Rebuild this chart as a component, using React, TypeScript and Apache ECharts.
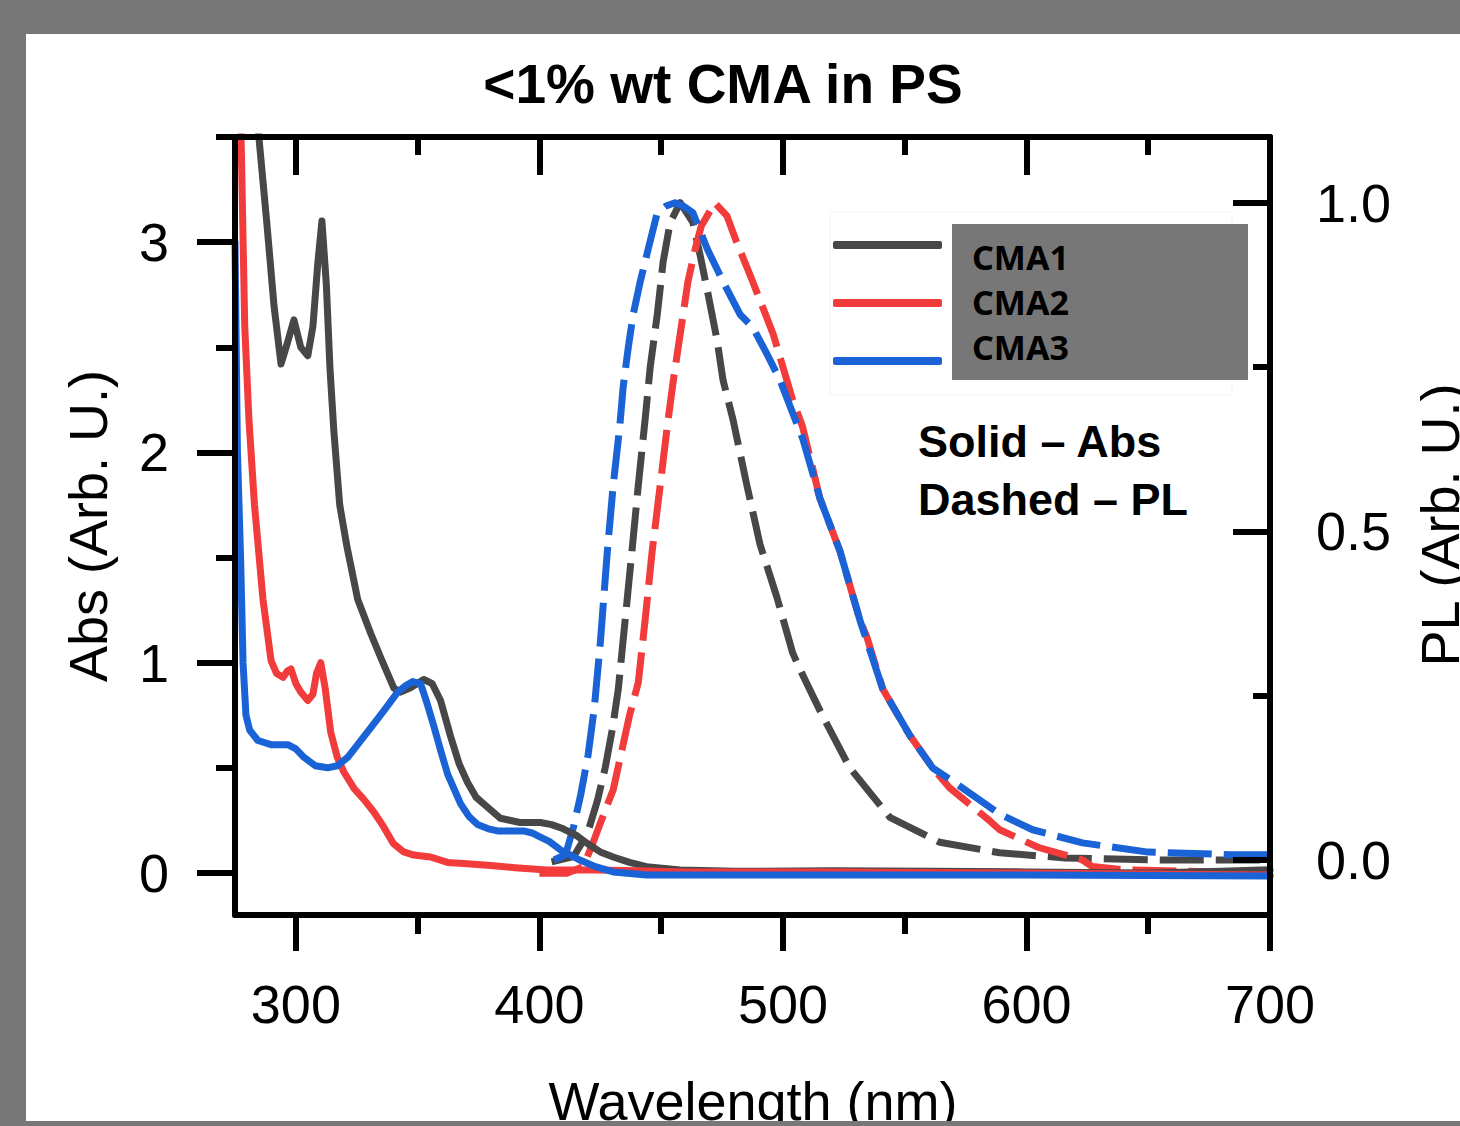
import React, { useEffect, useRef } from "react";
import * as echarts from "echarts";

// [wavelength (nm), absorbance]
const absCMA1: [number, number][] = [
  [283, 3.75], [284.8, 3.5], [288, 3.1], [291, 2.7], [293.9, 2.42], [296, 2.5], [299.2, 2.63],
  [302, 2.5], [304.9, 2.46], [307, 2.6], [309, 2.9], [310.7, 3.1], [312.5, 2.8], [314, 2.4],
  [315.6, 2.1], [318, 1.75], [321, 1.55], [325.4, 1.3], [330.7, 1.14], [335, 1.02], [340.2, 0.88],
  [343, 0.86], [347, 0.88], [352.5, 0.92], [356, 0.9], [359.4, 0.82], [363.5, 0.65], [367, 0.52],
  [370.5, 0.43], [374, 0.36], [377, 0.33], [384, 0.26], [392, 0.24], [400.4, 0.24], [405, 0.23],
  [409.8, 0.21], [415, 0.18], [419.7, 0.14], [425, 0.1], [430.3, 0.076], [437, 0.05], [444, 0.03],
  [457.8, 0.014], [480, 0.008], [520, 0.01], [560, 0.008], [600, 0.005], [650, 0.0], [680, 0.008],
  [700, 0.015],
];
const absCMA2: [number, number][] = [
  [277, 3.8], [277.5, 3.5], [279, 2.6], [280.7, 2.16], [283, 1.75], [286.5, 1.3], [289.8, 1.01],
  [292, 0.95], [294.7, 0.93], [296.5, 0.96], [298, 0.97], [300, 0.9], [302, 0.86], [304.9, 0.82],
  [307, 0.85], [308.5, 0.95], [310.2, 1.0], [312, 0.88], [314.3, 0.67], [317, 0.55], [319.7, 0.48],
  [324, 0.4], [327.9, 0.35], [332, 0.29], [336, 0.22], [340, 0.14], [344.3, 0.1], [348.4, 0.085],
  [355.3, 0.076], [362.3, 0.05], [368.9, 0.045], [380, 0.035], [390, 0.025], [403, 0.014],
  [423.8, 0.014], [440, 0.01], [460, 0.005], [520, 0.005], [600, 0.0], [650, -0.005], [700, -0.01],
];
const absCMA3: [number, number][] = [
  [275, 3.0], [276, 2.0], [277.3, 1.5], [278.3, 1.0], [279.5, 0.75], [281, 0.68], [284.4, 0.63],
  [289.8, 0.61], [296.7, 0.61], [300, 0.59], [303.3, 0.55], [308, 0.51], [313, 0.5], [317, 0.51],
  [321.3, 0.55], [326, 0.62], [330.7, 0.69], [336, 0.77], [341.8, 0.86], [345, 0.89], [348, 0.91],
  [351.2, 0.9], [353.5, 0.82], [356.6, 0.7], [359.5, 0.58], [362.3, 0.47], [367.6, 0.33], [371, 0.27],
  [374.6, 0.23], [379, 0.21], [382.8, 0.2], [393.4, 0.2], [397, 0.19], [400.4, 0.17], [404, 0.15],
  [408.6, 0.11], [412, 0.09], [416.8, 0.06], [423, 0.03], [430.3, 0.005], [444, -0.01], [500, -0.01],
  [600, -0.01], [700, -0.015],
];

// [wavelength (nm), PL]
const plCMA1: [number, number][] = [
  [405, -0.003], [414, 0.005], [419.7, 0.04], [423.8, 0.09], [427, 0.14], [430, 0.2], [432.4, 0.26],
  [435.2, 0.365], [438, 0.47], [440.6, 0.57], [443.4, 0.67], [445.5, 0.75], [448.4, 0.83],
  [450.8, 0.91], [453.7, 0.97], [457.8, 1.0], [463, 0.97], [466, 0.92], [469.3, 0.86], [473, 0.79],
  [475.4, 0.73], [479.5, 0.67], [485.2, 0.57], [490.6, 0.48], [497.5, 0.4], [504, 0.315],
  [507, 0.29], [515.5, 0.225], [527.5, 0.14], [543.9, 0.065], [564.3, 0.027], [589, 0.011],
  [616, 0.003], [657, 0.0], [700, 0.0],
];
const plCMA2: [number, number][] = [
  [400, -0.02], [411.5, -0.02], [418, -0.01], [422, 0.026], [425, 0.056], [430.3, 0.107], [437, 0.22],
  [440.6, 0.27], [443.4, 0.365], [446.3, 0.47], [449.6, 0.57], [452.5, 0.66], [455, 0.73], [457, 0.78],
  [459, 0.83], [461, 0.88], [464, 0.93], [466.5, 0.965], [468.9, 0.98], [472, 1.0], [477, 0.98],
  [481, 0.94], [486.5, 0.89], [491.8, 0.84], [496, 0.8], [500, 0.75], [504, 0.7], [508, 0.66],
  [515.2, 0.55], [523.4, 0.47], [531.6, 0.365], [534.4, 0.34], [541, 0.26], [552, 0.19],
  [561.5, 0.14], [568.4, 0.11], [584.8, 0.06], [589, 0.046], [605, 0.019], [623, 0.0], [627, -0.01],
  [640, -0.015], [700, -0.02],
];
const plCMA3: [number, number][] = [
  [406, 0.0], [410.7, 0.008], [414, 0.05], [417, 0.1], [420, 0.16], [422.5, 0.23], [425, 0.33],
  [427.9, 0.47], [430.3, 0.57], [433, 0.66], [434.4, 0.72], [436.5, 0.78], [438.5, 0.83],
  [441.4, 0.88], [444.7, 0.93], [448.4, 0.985], [452, 0.995], [455.7, 1.0], [459, 0.995],
  [463, 0.985], [468.9, 0.93], [475.4, 0.88], [482.4, 0.83], [487.7, 0.81], [493.4, 0.77],
  [498.8, 0.73], [504, 0.68], [508.2, 0.64], [515.2, 0.55], [523.4, 0.47], [531.6, 0.365],
  [541, 0.26], [552, 0.19], [561.5, 0.14], [569.7, 0.12], [589, 0.07], [602.5, 0.046], [623, 0.026],
  [650, 0.012], [684, 0.008], [700, 0.008],
];

const seriesNames = ["CMA1", "CMA2", "CMA3"];
const colors = ["#474747", "#f23b3b", "#1a63d6"];

const xMajorTicks = [300, 400, 500, 600, 700];
const xMinorTicks = [350, 450, 550, 650];
const absMajorTicks = [0, 1, 2, 3];
const absMinorTicks = [0.5, 1.5, 2.5, 3.5];
const plMajorTicks = [0, 0.5, 1.0];
const plMinorTicks = [0.25, 0.75];

const FONT = "Liberation Sans, Arial, sans-serif";

export default function App() {
  const ref = useRef<HTMLDivElement>(null);
  useEffect(() => {
    document.body.style.margin = "0";
    const chart = echarts.init(ref.current!, null, { renderer: "svg" });
    const line = { color: "#000", width: 6 };
    const xBase: any = { type: "value", min: 275, max: 700, splitLine: { show: false }, z: 4 };
    const absBase: any = { type: "value", min: -0.2, max: 3.5, splitLine: { show: false }, z: 4 };
    const plBase: any = { type: "value", min: -0.0837, max: 1.1, splitLine: { show: false }, z: 4 };
    const tickLabel = { fontSize: 54, color: "#000", fontFamily: FONT };

    const absData = [absCMA1, absCMA2, absCMA3];
    const plData = [plCMA1, plCMA2, plCMA3];

    const series: any[] = [];
    plData.forEach((d, i) => {
      series.push({
        name: seriesNames[i] + " PL",
        type: "line",
        xAxisIndex: 0,
        yAxisIndex: 2,
        data: d,
        z: 1,
        showSymbol: false,
        symbol: "none",
        clip: true,
        lineStyle: { color: colors[i], width: 7, type: [44, 12], cap: "butt", join: "round" },
        itemStyle: { color: colors[i] },
      });
    });
    absData.forEach((d, i) => {
      series.push({
        name: seriesNames[i],
        type: "line",
        xAxisIndex: 0,
        yAxisIndex: 0,
        data: d,
        z: 1,
        showSymbol: false,
        symbol: "none",
        clip: true,
        lineStyle: { color: colors[i], width: 7, cap: "round", join: "round" },
        itemStyle: { color: colors[i] },
      });
    });

    const option: any = {
      animation: false,
      backgroundColor: "#777777",
      title: {
        text: "<1% wt CMA in PS",
        left: 718,
        textAlign: "center",
        top: 51,
        textStyle: { fontSize: 55, fontWeight: "bold", color: "#000", fontFamily: FONT },
      },
      grid: { left: 235, top: 137, width: 1035, height: 778, containLabel: false },
      legend: [
        {
          // line samples
          data: seriesNames,
          orient: "vertical",
          left: 828,
          top: 236,
          icon: "roundRect",
          itemWidth: 109,
          itemHeight: 8,
          itemGap: 50,
          selectedMode: false,
          formatter: () => "",
          z: 6,
        },
        {
          // names
          data: seriesNames,
          orient: "vertical",
          left: 962,
          top: 234,
          icon: "rect",
          itemWidth: 0,
          itemHeight: 0,
          itemGap: 9,
          selectedMode: false,
          itemStyle: { opacity: 0 },
          z: 6,
          textStyle: {
            fontSize: 34,
            fontWeight: "bold",
            color: "#000",
            fontFamily: "Noto Sans",
            lineHeight: 36,
          },
        },
      ],
      xAxis: [
        {
          ...xBase, position: "bottom",
          axisLine: { show: true, onZero: false, lineStyle: line },
          axisTick: { show: true, customValues: xMajorTicks, length: 36, lineStyle: line },
          axisLabel: { show: true, customValues: xMajorTicks, margin: 62, ...tickLabel },
        },
        {
          ...xBase, position: "bottom",
          axisLine: { show: false, onZero: false },
          axisTick: { show: true, customValues: xMinorTicks, length: 19, lineStyle: line },
          axisLabel: { show: false },
        },
        {
          ...xBase, position: "top",
          axisLine: { show: true, onZero: false, lineStyle: line },
          axisTick: { show: true, inside: true, customValues: xMajorTicks, length: 38, lineStyle: line },
          axisLabel: { show: false },
        },
        {
          ...xBase, position: "top",
          axisLine: { show: false, onZero: false },
          axisTick: { show: true, inside: true, customValues: xMinorTicks, length: 18, lineStyle: line },
          axisLabel: { show: false },
        },
      ],
      yAxis: [
        {
          ...absBase, position: "left",
          axisLine: { show: true, onZero: false, lineStyle: line },
          axisTick: { show: true, customValues: absMajorTicks, length: 38, lineStyle: line },
          axisLabel: { show: true, customValues: absMajorTicks, margin: 66, ...tickLabel },
        },
        {
          ...absBase, position: "left",
          axisLine: { show: false, onZero: false },
          axisTick: { show: true, customValues: absMinorTicks, length: 19, lineStyle: line },
          axisLabel: { show: false },
        },
        {
          ...plBase, position: "right",
          axisLine: { show: true, onZero: false, lineStyle: line },
          axisTick: { show: true, inside: true, customValues: plMajorTicks, length: 37, lineStyle: line },
          axisLabel: {
            show: true, customValues: plMajorTicks, margin: 46, ...tickLabel,
            formatter: (v: number) => v.toFixed(1),
          },
        },
        {
          ...plBase, position: "right",
          axisLine: { show: false, onZero: false },
          axisTick: { show: true, inside: true, customValues: plMinorTicks, length: 17, lineStyle: line },
          axisLabel: { show: false },
        },
      ],
      graphic: [
        { type: "rect", z: -10, shape: { x: 26, y: 34, width: 1434, height: 1087 }, style: { fill: "#ffffff" } },
        { type: "rect", z: 1, shape: { x: 830, y: 212, width: 402, height: 183 }, style: { fill: "none", stroke: "#f3f3f3", lineWidth: 1 } },
        { type: "rect", z: 1, shape: { x: 952, y: 224, width: 296, height: 156 }, style: { fill: "#777777" } },
        {
          type: "text", z: 5, x: 918, y: 441,
          style: { text: "Solid \u2013 Abs", fontSize: 45, fontWeight: "bold", fontFamily: FONT, fill: "#000", align: "left", verticalAlign: "middle" },
        },
        {
          type: "text", z: 5, x: 918, y: 499,
          style: { text: "Dashed \u2013 PL", fontSize: 45, fontWeight: "bold", fontFamily: FONT, fill: "#000", align: "left", verticalAlign: "middle" },
        },
        {
          type: "text", z: 5, x: 88, y: 526, rotation: Math.PI / 2,
          style: { text: "Abs (Arb. U.)", fontSize: 54, fontFamily: FONT, fill: "#000", align: "center", verticalAlign: "middle" },
        },
        {
          type: "text", z: 5, x: 1440, y: 525, rotation: Math.PI / 2,
          style: { text: "PL (Arb. U.)", fontSize: 54, fontFamily: FONT, fill: "#000", align: "center", verticalAlign: "middle" },
        },
        {
          type: "text", z: 5, x: 753, y: 1101,
          style: { text: "Wavelength (nm)", fontSize: 54, fontFamily: FONT, fill: "#000", align: "center", verticalAlign: "middle" },
        },
        { type: "rect", z: 100, shape: { x: 0, y: 1121, width: 1460, height: 5 }, style: { fill: "#777777" } },
      ],
      series,
    };
    chart.setOption(option);
    return () => chart.dispose();
  }, []);
  return <div ref={ref} style={{ width: 1460, height: 1126 }} />;
}
